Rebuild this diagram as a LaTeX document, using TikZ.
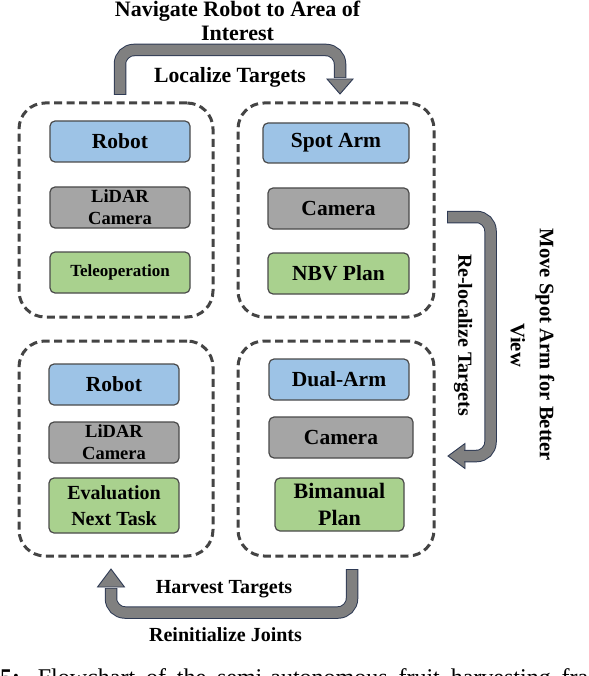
\documentclass[tikz,border=0pt]{standalone}
\usepackage{fontspec}
\setmainfont{Liberation Serif}
\definecolor{boxblue}{HTML}{9DC3E6}
\definecolor{boxgray}{HTML}{A5A5A5}
\definecolor{boxgreen}{HTML}{A9D18E}
\definecolor{itemline}{HTML}{4A4A4A}
\definecolor{groupgray}{HTML}{444444}
\definecolor{arrowfill}{HTML}{808080}
\definecolor{arrowline}{HTML}{2E3A54}
\begin{document}
\begin{tikzpicture}[x=1pt,y=-1pt,
  groupbox/.style={draw=groupgray, line width=3pt, dash pattern=on 8pt off 4.5pt, rounded corners=26pt, inner sep=0pt},
  itembox/.style={draw=itemline, line width=1.2pt, rounded corners=5pt, font=\bfseries\fontsize{21.5}{22}\selectfont, align=center, inner sep=0pt},
  blueitem/.style={itembox, fill=boxblue},
  grayitem/.style={itembox, fill=boxgray},
  greenitem/.style={itembox, fill=boxgreen},
  lbl/.style={font=\bfseries\fontsize{20}{24}\selectfont, align=center, inner sep=0pt},
  shaftout/.style={line width=12.5pt, draw=arrowline, rounded corners=14pt},
  shaftin/.style={line width=10.5pt, draw=arrowfill, rounded corners=14pt, shorten <=1pt},
  tiphead/.style={fill=arrowfill, draw=arrowline, line width=0.9pt, line join=miter}
]
\useasboundingbox (0,0) rectangle (588,676);

% groups
\node[groupbox, minimum width=194pt, minimum height=214pt] (g1) at (116,210) {};
\node[groupbox, minimum width=196pt, minimum height=214pt] (g2) at (336,210) {};
\node[groupbox, minimum width=194pt, minimum height=215pt] (g3) at (116,448.5) {};
\node[groupbox, minimum width=196pt, minimum height=215pt] (g4) at (336,448.5) {};

% top-left items
\node[blueitem, minimum width=140pt, minimum height=41pt] (tlrobot) at (120,141.5) {Robot};
\node[grayitem, minimum width=140pt, minimum height=41pt, font=\bfseries\fontsize{18.5}{22}\selectfont] (tllidar) at (120,207.5) {LiDAR\\Camera};
\node[greenitem, minimum width=140pt, minimum height=41pt, font=\bfseries\fontsize{17}{20}\selectfont] (tltele) at (120,272.5) {Teleoperation};

% top-right items
\node[blueitem, minimum width=146pt, minimum height=40pt] (trspot) at (336,143) {Spot Arm};
\node[grayitem, minimum width=141pt, minimum height=41pt] (trcam) at (338.5,208.5) {Camera};
\node[greenitem, minimum width=141pt, minimum height=41pt] (trnbv) at (338.5,273.5) {NBV Plan};

% bottom-left items
\node[blueitem, minimum width=130pt, minimum height=41pt] (blrobot) at (114,384.5) {Robot};
\node[grayitem, minimum width=130pt, minimum height=41pt, font=\bfseries\fontsize{18.5}{22}\selectfont] (bllidar) at (114,442.5) {LiDAR\\Camera};
\node[greenitem, minimum width=130pt, minimum height=55pt, font=\bfseries\fontsize{20}{26}\selectfont] (bleval) at (114,505.5) {Evaluation\\Next Task};

% bottom-right items
\node[blueitem, minimum width=140pt, minimum height=41pt] (brdual) at (339,379.5) {Dual-Arm};
\node[grayitem, minimum width=144pt, minimum height=41pt] (brcam) at (341,437.5) {Camera};
\node[greenitem, minimum width=129pt, minimum height=53pt, font=\bfseries\fontsize{22}{27}\selectfont] (brbim) at (339.5,504.5) {Bimanual\\Plan};

% arrow coordinates
\coordinate (aTs) at (120,95);
\coordinate (aTb) at (340,79);
\coordinate (aTt) at (340,94);
\coordinate (aRs) at (447,217);
\coordinate (aRb) at (465,456);
\coordinate (aRt) at (448,456);
\coordinate (aBs) at (352,569);
\coordinate (aBb) at (111,587);
\coordinate (aBt) at (111,569);

% top arrow
\draw[tiphead] ([xshift=-13pt]aTb) -- (aTt) -- ([xshift=13pt]aTb) -- cycle;
\draw[shaftout] (aTs) -- (120,50) -- (340,50) -- ([yshift=1pt]aTb);
\draw[shaftin] (aTs) -- (120,50) -- (340,50) -- ([yshift=1.5pt]aTb);

% right arrow
\draw[tiphead] ([yshift=-12.5pt]aRb) -- (aRt) -- ([yshift=12.5pt]aRb) -- cycle;
\draw[shaftout] (aRs) -- (490.5,217) -- (490.5,456) -- ([xshift=-1pt]aRb);
\draw[shaftin] (aRs) -- (490.5,217) -- (490.5,456) -- ([xshift=-1.5pt]aRb);

% bottom arrow
\draw[tiphead] ([xshift=-13.5pt]aBb) -- (aBt) -- ([xshift=13.5pt]aBb) -- cycle;
\draw[shaftout] (aBs) -- (352,612.5) -- (111,612.5) -- ([yshift=-1pt]aBb);
\draw[shaftin] (aBs) -- (352,612.5) -- (111,612.5) -- ([yshift=-1.5pt]aBb);

% labels
\node[lbl, font=\bfseries\fontsize{22}{24}\selectfont, anchor=north] (lnav) at (237.5,0.8) {Navigate Robot to Area of\\Interest};
\node[lbl, font=\bfseries\fontsize{21.7}{24}\selectfont, anchor=base] (lloc) at (230,83) {Localize Targets};
\node[lbl, font=\bfseries\fontsize{20}{24}\selectfont, rotate=-90] (lreloc) at (463,335) {Re-localize Targets};
\node[lbl, font=\bfseries\fontsize{20.6}{29}\selectfont, rotate=-90] (lmove) at (532.5,345) {Move Spot Arm for Better\\View};
\node[lbl, anchor=base] (lharv) at (224,593) {Harvest Targets};
\node[lbl, anchor=base] (lreinit) at (225.5,641) {Reinitialize Joints};

% caption (cut off by the picture edge, as in the reference)
\node[anchor=base west, inner sep=0pt, font=\fontsize{24}{28}\selectfont] (cap) at (0,685) {\makebox[588pt][s]{\textbf{5:} Flowchart of the semi-autonomous fruit harvesting fra}};
\end{tikzpicture}
\end{document}
